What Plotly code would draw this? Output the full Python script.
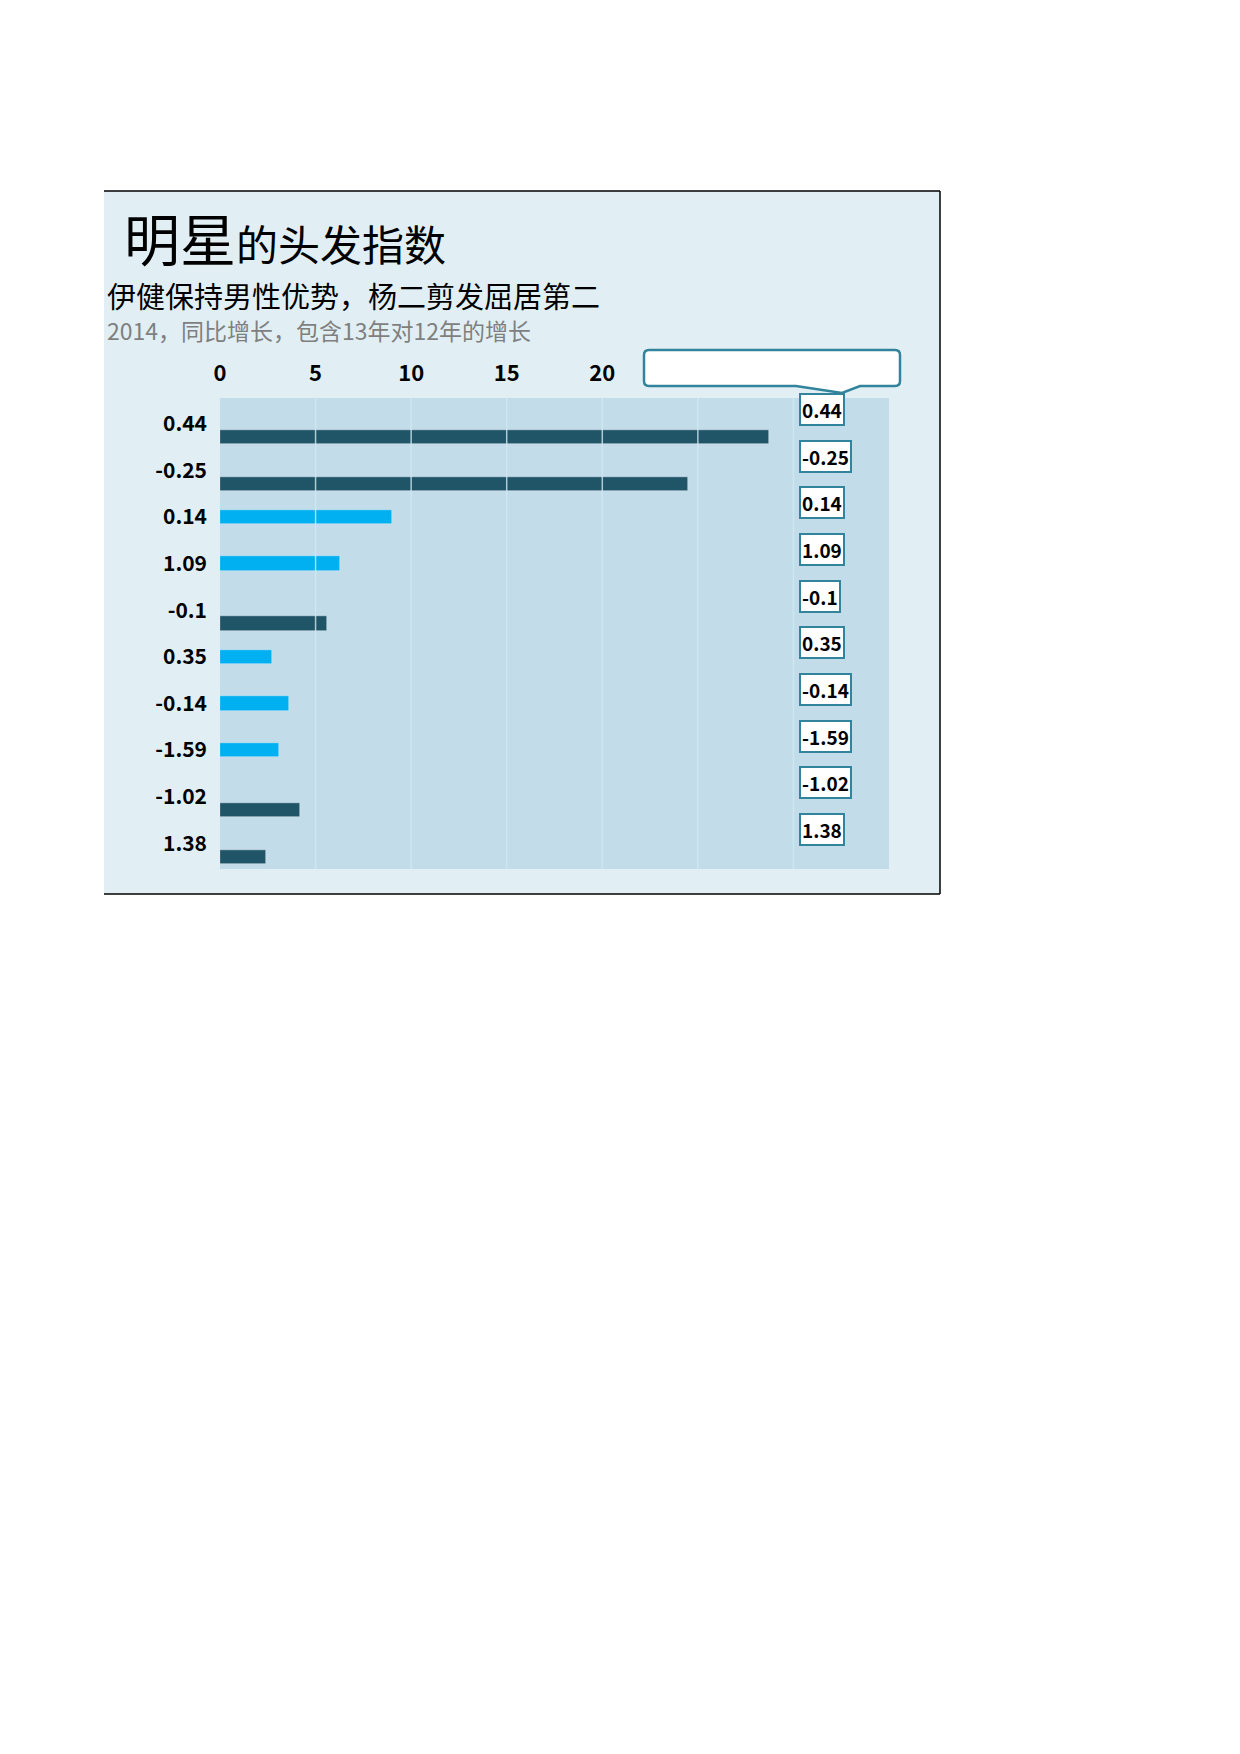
import plotly.graph_objects as go

# growth labels (shown left and right) and index values
growth_labels = ["0.44", "-0.25", "0.14", "1.09", "-0.1", "0.35", "-0.14", "-1.59", "-1.02", "1.38"]
index_values = [28.7, 24.5, 9.0, 6.3, 5.6, 2.7, 3.6, 3.1, 4.2, 2.4]
is_male = [True, True, False, False, True, False, False, False, True, True]
x_ticks = [0, 5, 10, 15, 20]
grid_lines = [5, 10, 15, 20, 25, 30]

DARK = "#1F5566"
LIGHT = "#00B0F0"
FONT = "Noto Sans CJK SC"

W, H = 1240, 1754
L, R, T, B = 212, 881, 390, 861  # plot area in pixels


def px(x):
    return (x - L) / (R - L)


def py(y):
    return (B - y) / (B - T)


pos = list(range(len(growth_labels)))
fig = go.Figure()
fig.add_trace(go.Bar(
    y=[p for p, m in zip(pos, is_male) if not m],
    x=[v for v, m in zip(index_values, is_male) if not m],
    orientation="h", marker_color=LIGHT, width=0.31, offset=-0.155,
    hoverinfo="x",
))
fig.add_trace(go.Bar(
    y=[p for p, m in zip(pos, is_male) if m],
    x=[v for v, m in zip(index_values, is_male) if m],
    orientation="h", marker_color=DARK, width=0.31, offset=0.135,
    hoverinfo="x",
))

shapes = []
# background card
shapes.append(dict(type="rect", xref="paper", yref="paper", layer="below",
                   x0=px(96), x1=px(932), y0=py(886), y1=py(183),
                   fillcolor="#E1EFF5", line_width=0))
shapes.append(dict(type="rect", xref="paper", yref="paper", layer="below",
                   x0=0, x1=1, y0=0, y1=1, fillcolor="#C2DCEA", line_width=0))
for (x0, y0, x1, y1) in [(96, 183, 932, 183), (932, 183, 932, 886), (96, 886, 932, 886)]:
    shapes.append(dict(type="line", xref="paper", yref="paper",
                       x0=px(x0), x1=px(x1), y0=py(y0), y1=py(y1),
                       line=dict(color="black", width=1.5)))
# grid separators drawn above the bars
for g in grid_lines:
    shapes.append(dict(type="line", xref="x", yref="paper", layer="above",
                       x0=g, x1=g, y0=0, y1=1,
                       line=dict(color="rgba(210,232,242,0.8)", width=1.5)))
# callout box
cx0, cx1, cy0, cy1, rr = 636, 892, 342, 378, 5
tip_x, tip_y = 834, 385
path = (f"M {px(cx0 + rr)},{py(cy0)} L {px(cx1 - rr)},{py(cy0)} "
        f"Q {px(cx1)},{py(cy0)} {px(cx1)},{py(cy0 + rr)} "
        f"L {px(cx1)},{py(cy1 - rr)} Q {px(cx1)},{py(cy1)} {px(cx1 - rr)},{py(cy1)} "
        f"L {px(852)},{py(cy1)} L {px(tip_x)},{py(tip_y)} L {px(788)},{py(cy1)} "
        f"L {px(cx0 + rr)},{py(cy1)} Q {px(cx0)},{py(cy1)} {px(cx0)},{py(cy1 - rr)} "
        f"L {px(cx0)},{py(cy0 + rr)} Q {px(cx0)},{py(cy0)} {px(cx0 + rr)},{py(cy0)} Z")
shapes.append(dict(type="path", xref="paper", yref="paper", path=path,
                   fillcolor="white", line=dict(color="#31849B", width=2.5)))

annotations = [
    dict(xref="paper", yref="paper", x=px(114), y=py(228), xanchor="left", yanchor="middle",
         showarrow=False, text="<span style='font-size:56px'>明星</span>的头发指数",
         font=dict(family=FONT, size=42, color="black")),
    dict(xref="paper", yref="paper", x=px(97), y=py(287), xanchor="left", yanchor="middle",
         showarrow=False, text="伊健保持男性优势，杨二剪发屈居第二",
         font=dict(family=FONT, size=29, color="black")),
    dict(xref="paper", yref="paper", x=px(97), y=py(322), xanchor="left", yanchor="middle",
         showarrow=False, text="2014，同比增长，包含13年对12年的增长",
         font=dict(family=FONT, size=23, color="#7F7F7F")),
]
for p, lab in zip(pos, growth_labels):
    annotations.append(dict(x=30.3, y=p - 0.3, xref="x", yref="y", xanchor="left",
                            showarrow=False, text=f"<b>{lab}</b>",
                            font=dict(family=FONT, size=19, color="black"),
                            bgcolor="white", bordercolor="#31849B", borderwidth=2, borderpad=1))

fig.update_layout(
    width=W, height=H,
    margin=dict(l=L, r=W - R, t=T, b=H - B),
    paper_bgcolor="white", plot_bgcolor="#C2DCEA",
    showlegend=False, bargap=0,
    shapes=shapes, annotations=annotations,
    font=dict(family=FONT),
)
fig.update_xaxes(side="top", range=[0, 35], tickvals=x_ticks, showgrid=False,
                 zeroline=False, ticks="", ticklabelstandoff=12,
                 tickfont=dict(size=22, color="black", weight="bold"))
fig.update_yaxes(range=[9.55, -0.55], tickvals=pos, ticktext=growth_labels, showgrid=False,
                 zeroline=False, ticks="", ticklabelstandoff=12,
                 tickfont=dict(size=21, color="black", weight="bold"))

fig.write_html("out.html")
